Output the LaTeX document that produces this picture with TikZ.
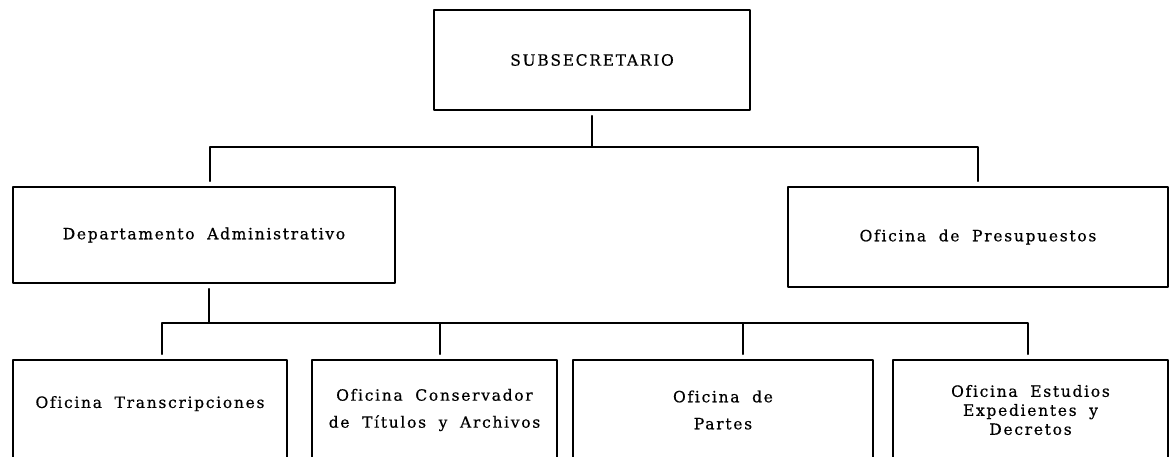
\documentclass[tikz,border=0pt]{standalone}
\usepackage{fontspec}
\newfontfamily\orgfont{DejaVu Serif}[LetterSpace=11,WordSpace=1.9,Ligatures=NoCommon,FakeBold=0.6]
\tikzset{
	caja/.style={draw,line width=1.8pt,rectangle,align=center,inner sep=0pt},
	enlace/.style={line width=1.8pt},
	texto/.style={font=\orgfont\fontsize{15.5}{27}\selectfont}
}
\begin{document}
\begin{tikzpicture}[x=1pt,y=-1pt,line join=round,line cap=round]
	\useasboundingbox (0,0) rectangle (1175,457);
	\clip (0,0) rectangle (1175,457);
	%Cajas
	\node[caja,texto,minimum width=316pt,minimum height=100pt] (sub) at (592,60) {SUBSECRETARIO};
	\node[caja,texto,minimum width=382pt,minimum height=96pt] (dep) at (204,235) {Departamento Administrativo};
	\node[caja,texto,minimum width=380pt,minimum height=100pt] (pre) at (978,237) {Oficina de Presupuestos};
	\node[caja,texto,text depth=16pt,minimum width=274pt,minimum height=100pt] (tra) at (150,410) {Oficina Transcripciones};
	\node[caja,texto,minimum width=245pt,minimum height=100pt] (con) at (434.5,410) {Oficina Conservador\\de Títulos y Archivos};
	\node[caja,texto,minimum width=300pt,minimum height=100pt] (par) at (723,410) {Oficina de\\Partes};
	\node[caja,font=\orgfont\fontsize{15.5}{19}\selectfont,minimum width=275pt,minimum height=100pt] (est) at (1030.5,410) {Oficina Estudios\\Expedientes y\\Decretos};
	%Lineas
	\coordinate (bus1) at (592,147);
	\coordinate (bus2) at (209,323);
	\draw[enlace] ([yshift=-5pt]sub.south) -- (bus1);
	\draw[enlace] ([xshift=6pt,yshift=5pt]dep.north) |- (bus1) -| ([yshift=5pt]pre.north);
	\draw[enlace] ([xshift=5pt,yshift=-5pt]dep.south) -- (bus2);
	\draw[enlace] ([xshift=12pt,yshift=5pt]tra.north) |- (bus2) -| ([xshift=-2.5pt,yshift=5pt]est.north);
	\draw[enlace] ([xshift=5.5pt,yshift=5pt]con.north) -- ([xshift=5.5pt]con.north |- bus2);
	\draw[enlace] ([xshift=20pt,yshift=5pt]par.north) -- ([xshift=20pt]par.north |- bus2);
\end{tikzpicture}
\end{document}
